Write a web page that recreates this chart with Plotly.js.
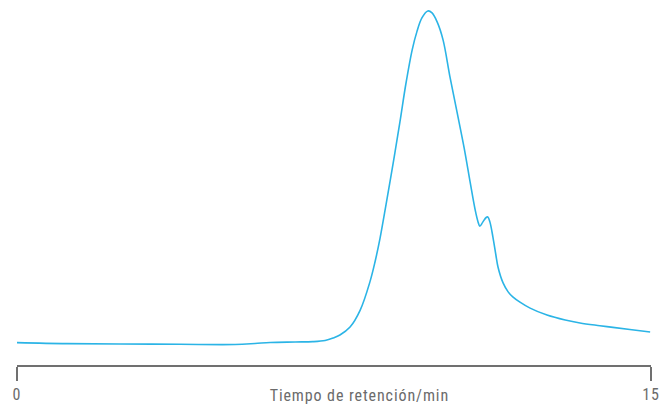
<!DOCTYPE html>
<html>
<head>
<meta charset="utf-8">
<script src="https://cdn.plot.ly/plotly-3.0.1.min.js"></script>
<style>
  html, body { margin: 0; padding: 0; background: #ffffff; }
  #chart { width: 668px; height: 405px; }
  /* condensed labels set with a little extra tracking */
  #chart .annotation-text, #chart .xtick text { letter-spacing: 0.9px; }
</style>
</head>
<body>
<div id="chart"></div>
<script>
// Retention time (min) and detector signal (arbitrary units) of the chromatogram trace
const retentionTime = [
  0.00, 1.18, 2.44, 3.86, 5.16, 5.63, 5.99, 6.58, 7.00, 7.29, 7.48, 7.64, 7.88, 8.12,
  8.35, 8.47, 8.59, 8.73, 8.90, 9.06, 9.20, 9.35, 9.46, 9.58, 9.72, 9.82, 9.94, 10.08,
  10.24, 10.41, 10.58, 10.72, 10.84, 10.91, 10.95, 11.02, 11.10,
  11.14, 11.19, 11.26, 11.33, 11.38, 11.50, 11.62, 11.73, 11.90, 12.14, 12.54, 12.97,
  13.32, 13.79, 14.10, 14.50, 14.98
];
const signal = [
  0.1, -0.2, -0.3, -0.4, -0.45, -0.15, 0.15, 0.3, 0.4, 0.75, 1.5, 2.4, 4.8, 9.9,
  18.4, 24.4, 31.6, 41.6, 54.2, 66.6, 78.0, 88.3, 93.7, 97.9, 100.0, 99.4, 96.7, 91.3,
  80.4, 69.6, 58.7, 48.5, 40.1, 36.4, 35.2, 36.4, 37.8,
  37.95, 36.4, 31.9, 26.5, 22.9, 18.1, 15.4, 13.9, 12.3, 10.5, 8.4, 6.9,
  6.0, 5.2, 4.7, 4.05, 3.3
];
const tickValues = [0, 15];
const tickLabels = ['0', '15'];
const axisTitle = 'Tiempo de retención/min';

const labelFont = {
  family: '"Liberation Sans Narrow", "Roboto Condensed", Roboto, sans-serif',
  size: 16,
  color: '#6b6b6b'
};

const trace = {
  x: retentionTime,
  y: signal,
  type: 'scatter',
  mode: 'lines',
  line: { color: '#2bb4e6', width: 1.6, shape: 'spline', smoothing: 1 },
  hoverinfo: 'skip'
};

const layout = {
  width: 668,
  height: 405,
  margin: { l: 17, r: 17, t: 0, b: 40 },
  paper_bgcolor: '#ffffff',
  plot_bgcolor: '#ffffff',
  showlegend: false,
  xaxis: {
    range: [0, 15],
    showgrid: false,
    zeroline: false,
    showline: true,
    linecolor: '#707070',
    linewidth: 1.5,
    ticks: 'outside',
    ticklen: 14,
    tickwidth: 1.5,
    tickcolor: '#707070',
    tickvals: tickValues,
    ticktext: tickLabels,
    tickfont: labelFont,
    fixedrange: true
  },
  yaxis: {
    range: [-6.63, 103.3],
    visible: false,
    fixedrange: true
  },
  annotations: [{
    text: axisTitle,
    xref: 'x',
    yref: 'paper',
    x: 8.11,
    y: 0,
    yshift: -30,
    xanchor: 'center',
    yanchor: 'middle',
    showarrow: false,
    font: labelFont
  }]
};

Plotly.newPlot('chart', [trace], layout, { displayModeBar: false, staticPlot: true });
</script>
</body>
</html>
